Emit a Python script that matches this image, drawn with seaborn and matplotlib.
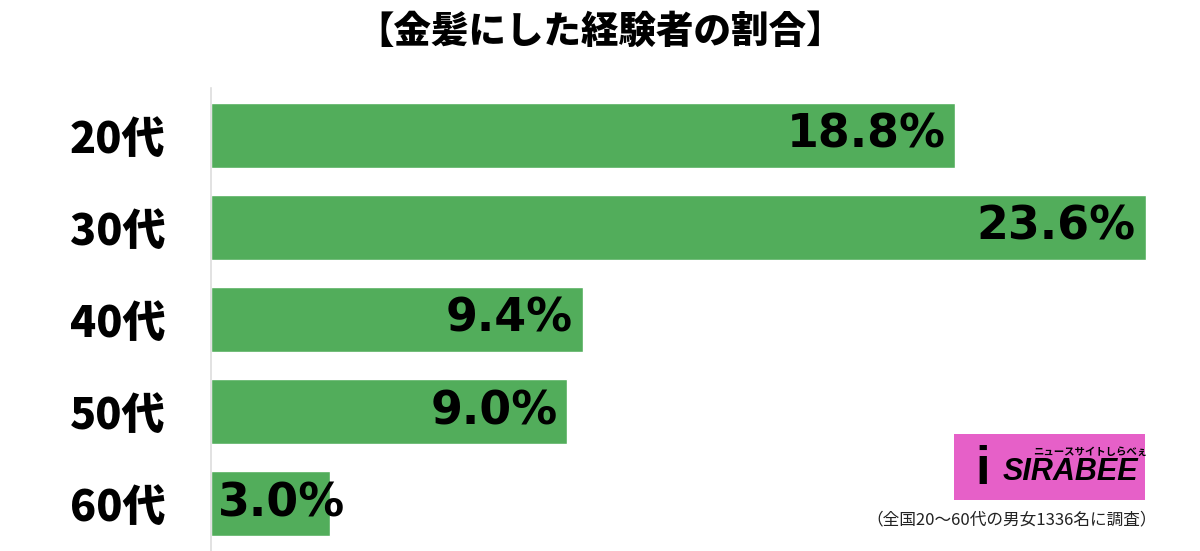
import matplotlib
matplotlib.use("Agg")
import matplotlib.pyplot as plt
import seaborn as sns
import pandas as pd
from matplotlib.patches import Rectangle

categories = ["20代", "30代", "40代", "50代", "60代"]
values = [18.8, 23.6, 9.4, 9.0, 3.0]
title = "【金髪にした経験者の割合】"
note = "（全国20〜60代の男女1336名に調査）"

sns.set_theme(style="white")
plt.rcParams['font.family'] = ['Noto Sans CJK JP', 'DejaVu Sans']

df = pd.DataFrame({"cat": categories, "val": values})

fig = plt.figure(figsize=(12, 5.51), dpi=100)
ax = fig.add_axes([211/1200, 0, 1 - 211/1200, 1 - 88/551])
sns.barplot(data=df, x="val", y="cat", orient="h", color="#52AD5B",
            saturation=1, width=0.71, ax=ax)
ax.set_xlim(0, (1200 - 211) / 39.6)
ax.set_ylim(4.516, -0.516)
ax.set_xlabel("")
ax.set_ylabel("")
ax.set_xticks([])
for s in ["top", "right", "bottom"]:
    ax.spines[s].set_visible(False)
ax.spines["left"].set_color("#dddddd")
ax.spines["left"].set_linewidth(1.2)
ax.tick_params(axis="y", length=0, pad=33)
for lab in ax.get_yticklabels():
    lab.set_fontsize(31)
    lab.set_fontweight("black")
    lab.set_color("black")

for i, v in enumerate(values):
    txt = f"{v:.1f}%"
    if v < 5:
        ax.annotate(txt, (0, i), xytext=(7, 0), textcoords="offset pixels",
                    ha="left", va="center", fontsize=33, fontweight="bold",
                    color="black", family=["DejaVu Sans"])
    else:
        ax.annotate(txt, (v, i), xytext=(-10, 0), textcoords="offset pixels",
                    ha="right", va="center", fontsize=33, fontweight="bold",
                    color="black", family=["DejaVu Sans"])

fig.text(0.5, 1 - 32/551, title, ha="center", va="center", fontsize=27,
         fontweight="black", color="black")

# logo
fig.patches.append(Rectangle((954/1200, 1 - 500/551), 191/1200, 66/551,
                             transform=fig.transFigure, facecolor="#E660C8",
                             edgecolor="none"))
fig.text(1003/1200, 1 - 472/551, "SIRABEE", ha="left", va="center",
         fontsize=22, fontweight="black", style="italic", color="black",
         family=["Liberation Sans", "DejaVu Sans"])
fig.text(983/1200, 1 - 470/551, "i", ha="center", va="center",
         fontsize=38, fontweight="black", color="black",
         family=["Liberation Sans", "DejaVu Sans"])
fig.text(1033/1200, 1 - 452/551, "ニュースサイトしらべぇ", ha="left", va="center",
         fontsize=7.5, fontweight="bold", color="black")
fig.text(1012/1200, 1 - 520/551, note, ha="center", va="center",
         fontsize=12, color="#222222")

fig.savefig("out.png", dpi=100)
